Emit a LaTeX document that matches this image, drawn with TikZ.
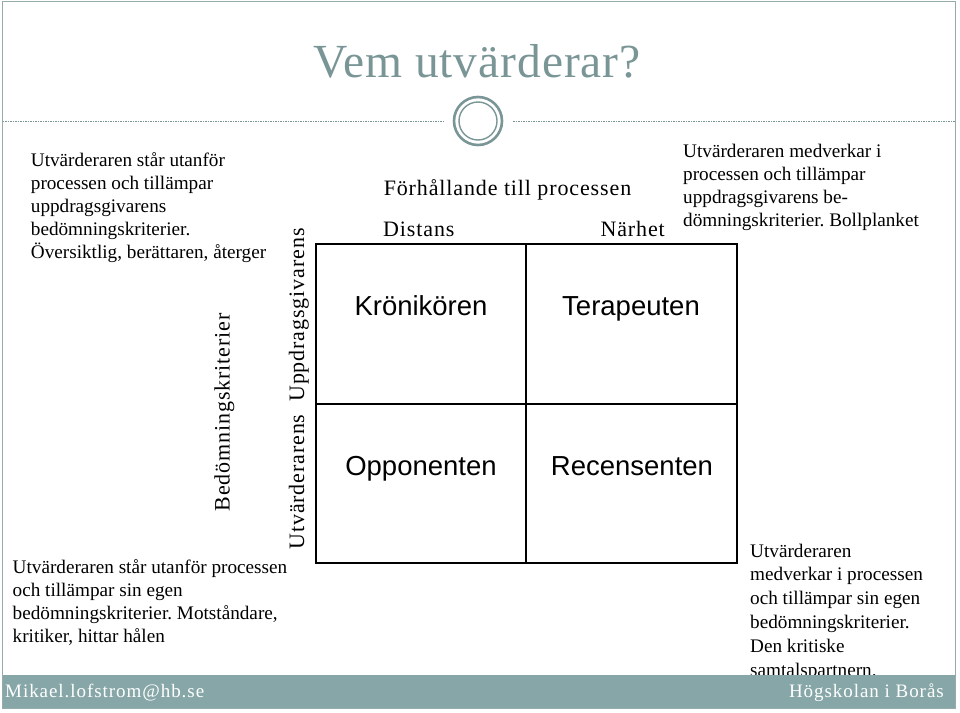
\documentclass[tikz,border=0pt]{standalone}
\usepackage{fontspec}
\setmainfont{Liberation Serif}
\newfontfamily\gridfont{Liberation Sans}
\newfontfamily\titlefont[LetterSpace=2]{Liberation Serif}
\newfontfamily\spacedfont[LetterSpace=4]{Liberation Serif}
\newfontfamily\footfont[LetterSpace=5]{Liberation Serif}
\definecolor{teal1}{RGB}{122,149,150}
\definecolor{barcol}{RGB}{134,166,167}
\definecolor{framecol}{RGB}{150,172,172}
\tikzset{
  body/.style={anchor=north west, inner sep=0pt, align=left, font=\frenchspacing\fontsize{19.2}{23}\selectfont},
  celltext/.style={anchor=base, inner sep=0pt, font=\gridfont\fontsize{27.5}{30}\selectfont},
  rotlabel/.style={rotate=90, anchor=base, inner sep=0pt, font=\spacedfont\fontsize{22}{26}\selectfont},
  headlabel/.style={inner sep=0pt, font=\spacedfont\fontsize{22}{26}\selectfont},
  foottext/.style={inner sep=0pt, text=white, font=\footfont\fontsize{19}{22}\selectfont},
}
\begin{document}
\begin{tikzpicture}[x=1pt,y=-1pt]
\useasboundingbox (0,0) rectangle (960,712);
\fill[white] (0,0) rectangle (960,712);
% frame
\draw[framecol, line width=1.2pt] (2.5,1.5) rectangle (955.5,708.5);
% title
\node[anchor=base, inner sep=0pt, text=teal1, font=\titlefont\fontsize{47.5}{56}\selectfont] (title) at (477,77) {Vem utvärderar?};
% dashed rule and ornament
\coordinate (dl0) at (2.5,121);
\coordinate (dl1) at (443,121);
\coordinate (dr0) at (513,121);
\coordinate (dr1) at (955,121);
\draw[teal1, line width=0.8pt, dash pattern=on 1.5pt off 1pt] (dl0) -- (dl1);
\draw[teal1, line width=0.8pt, dash pattern=on 1.5pt off 1pt] (dr0) -- (dr1);
\node[circle, draw=teal1, line width=2.6pt, minimum size=48pt, inner sep=0pt] (orn) at (478,121) {};
\node[circle, draw=teal1, line width=1.4pt, minimum size=38pt, inner sep=0pt] (ornin) at (478,121) {};
% side texts
\node[body] (tl) at (30.7,149.9) {\strut Utvärderaren står utanför\\processen och tillämpar\\uppdragsgivarens\\bedömningskriterier.\\Översiktlig, berättaren, återger};
\node[body] (tr) at (683,140.9) {\strut Utvärderaren medverkar i\\processen och tillämpar\\uppdragsgivarens be-\\dömningskriterier. Bollplanket};
\node[body] (bl) at (12.5,556.9) {\strut Utvärderaren står utanför processen\\och tillämpar sin egen\\bedömningskriterier. Motståndare,\\kritiker, hittar hålen};
\node[body, font=\frenchspacing\fontsize{19.2}{23.8}\selectfont] (br) at (750,540.3) {\strut Utvärderaren\\medverkar i processen\\och tillämpar sin egen\\bedömningskriterier.\\Den kritiske\\samtalspartnern.};
% headers
\node[headlabel, anchor=base] (forh) at (507.5,195) {Förhållande till processen};
\node[headlabel, anchor=base west] (dist) at (383,236) {Distans};
\node[headlabel, anchor=base east] (narh) at (665,236) {Närhet};
% rotated labels
\node[rotlabel] (bed) at (229.5,412.5) {Bedömningskriterier};
\node[rotlabel] (utv) at (304,389) {Utvärderarens\ \ Uppdragsgivarens};
% grid
\coordinate (g00) at (316,244);
\coordinate (g11) at (737,563);
\coordinate (vt) at (526,244);
\coordinate (vb) at (526,563);
\coordinate (hl) at (316,404);
\coordinate (hr) at (737,404);
\draw[line width=1.3pt] (vt) -- (vb);
\draw[line width=1.3pt] (hl) -- (hr);
\draw[line width=2.7pt] (g00) rectangle (g11);
\node[celltext] (kr) at (421,315) {Krönikören};
\node[celltext] (te) at (631,315) {Terapeuten};
\node[celltext] (op) at (421,475) {Opponenten};
\node[celltext] (re) at (632,475) {Recensenten};
% footer
\fill[barcol] (3,675) rectangle (955,708);
\node[foottext, anchor=base west] (mail) at (5,697) {Mikael.lofstrom@hb.se};
\node[foottext, anchor=base east] (hb) at (944,697) {Högskolan i Borås};
\end{tikzpicture}
\end{document}
